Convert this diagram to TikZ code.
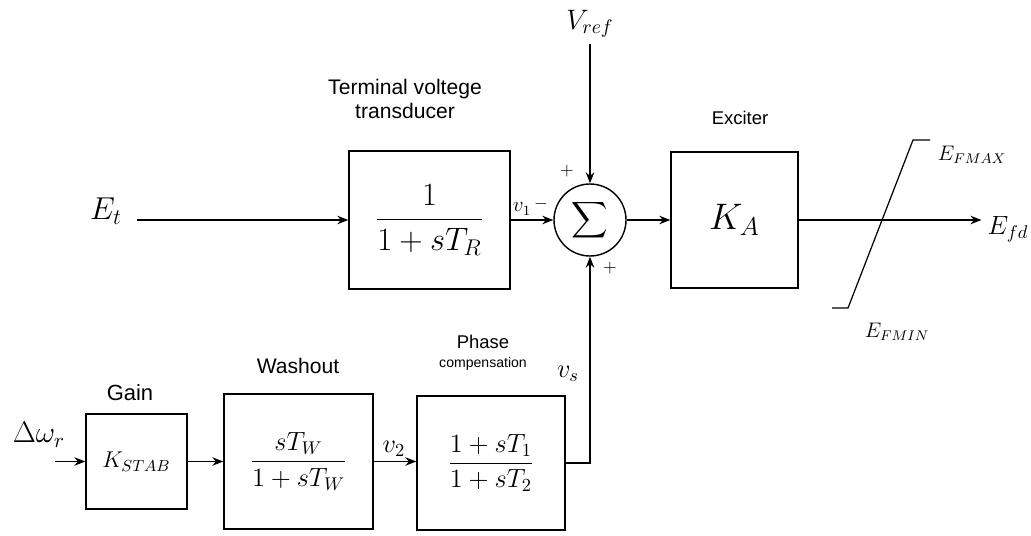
\RequirePackage{fix-cm}
\documentclass[tikz,border=0pt]{standalone}
\usepackage{amsmath}
\usepackage[no-math]{fontspec}
\newfontfamily\lblfont{Liberation Sans}
\usetikzlibrary{arrows.meta,positioning}

\begin{document}
\begin{tikzpicture}[
    x=1cm, y=1cm,
    >={Stealth[length=2.2mm,width=1.7mm]},
    blk/.style={draw=black, line width=0.8pt, fill=white, inner sep=2pt},
    sumc/.style={circle, draw=black, line width=0.8pt, minimum size=14.4mm,
      inner sep=0pt},
    lbl/.style={font=\lblfont\fontsize{12}{13.5}\selectfont, align=center},
    sgn/.style={font=\fontsize{10}{12}\selectfont, inner sep=0pt},
    sig/.style={->, line width=0.7pt, draw=black},
  wire/.style={line width=0.7pt, draw=black}]

  \useasboundingbox (0,0) rectangle (20.62,10.70);

  % ---- upper loop: transducer, summing point, exciter ----
  \node[blk, minimum width=32.2mm, minimum height=27.6mm,
  font=\fontsize{18.5}{22}\selectfont] (tr) at (8.59,6.3) {$\dfrac{1}{1+sT_R}$};
  \node[lbl] (trlbl) at (8.10,8.72) {Terminal voltege\\transducer};

  \node[sumc, font=\fontsize{14}{16}\selectfont] (sum) at (11.80,6.3)
  {$\displaystyle\sum$};

  \node[blk, minimum width=25.4mm, minimum height=27.2mm,
  font=\fontsize{21}{24}\selectfont] (ka) at (14.69,6.3) {$K_A$};
  \node[lbl, font=\lblfont\fontsize{10.5}{12.5}\selectfont] (exlbl) at (14.80,8.34)
  {Exciter};

  % ---- inputs and output ----
  \node[font=\fontsize{18}{21}\selectfont] (et) at (2.12,6.48) {$E_t$};
  \coordinate (etin) at (2.74,6.3);
  \draw[sig] (etin) -- (tr.west);

  \node[font=\fontsize{16}{19}\selectfont] (vref) at (11.80,10.22) {$V_{ref}$};
  \draw[sig] (vref.south) -- (sum.north);

  \node[font=\fontsize{15}{18}\selectfont] (efd) at (20.16,6.12) {$E_{fd}$};
  \draw[sig] (tr.east) -- (sum.west);
  \draw[sig] (sum.east) -- (ka.west);
  \draw[sig] (ka.east) -- (ka.east -| efd.west);

  % ---- signs at the summing point ----
  \node[font=\fontsize{12}{14}\selectfont] (v1) at (10.44,6.52) {$v_1$};
  \node[sgn] (mn) at (10.82,6.62) {$-$};
  \node[sgn] (pl1) at (11.34,7.28) {$+$};
  \node[sgn] (pl2) at (12.20,5.34) {$+$};

  % ---- limiter ----
  \draw[wire] (16.64,4.54) -- (16.96,4.54) -- (18.26,7.90) -- (18.60,7.90);
  \node[font=\fontsize{12}{14}\selectfont] (emax) at (19.44,7.60) {$E_{FMAX}$};
  \node[font=\fontsize{12}{14}\selectfont] (emin) at (17.94,4.06) {$E_{FMIN}$};

  % ---- stabiliser path: gain, washout, phase compensation ----
  \node[blk, minimum width=20.2mm, minimum height=19mm,
  font=\fontsize{13}{16}\selectfont] (gain) at (2.73,1.47) {$K_{STAB}$};
  \node[lbl, font=\lblfont\fontsize{12.5}{14}\selectfont] (gnlbl) at (2.60,2.84)
  {Gain};

  \node[blk, minimum width=29.8mm, minimum height=27mm,
  font=\fontsize{15}{18}\selectfont] (wash) at (5.97,1.47) {$\dfrac{sT_W}{1+sT_W}$};
  \node[lbl] (walbl) at (5.96,3.38) {Washout};

  \node[blk, minimum width=29.6mm, minimum height=26.8mm,
  font=\fontsize{15}{18}\selectfont] (phase) at (9.82,1.44) {$\dfrac{1+sT_1}{1+sT_2}$};
  \node[lbl, font=\lblfont\fontsize{10.5}{11}\selectfont] (phlbl) at (9.66,3.65)
  {Phase\\{\fontsize{8}{9}\selectfont compensation}};

  \node[font=\fontsize{17}{20}\selectfont] (dw) at (0.78,2.0) {$\Delta\omega_r$};
  \coordinate (dwin) at (1.10,1.47);
  \draw[sig] (dwin) -- (gain.west);
  \draw[sig] (gain.east) -- (wash.west);
  \draw[sig] (wash.east) -- (wash.east -| phase.west);
  \node[font=\fontsize{15}{18}\selectfont] (v2) at (7.88,1.72) {$v_2$};
  \draw[sig] (phase.east) -| (sum.south);
  \node[font=\fontsize{15}{18}\selectfont] (vs) at (11.36,3.22) {$v_s$};
\end{tikzpicture}
\end{document}
